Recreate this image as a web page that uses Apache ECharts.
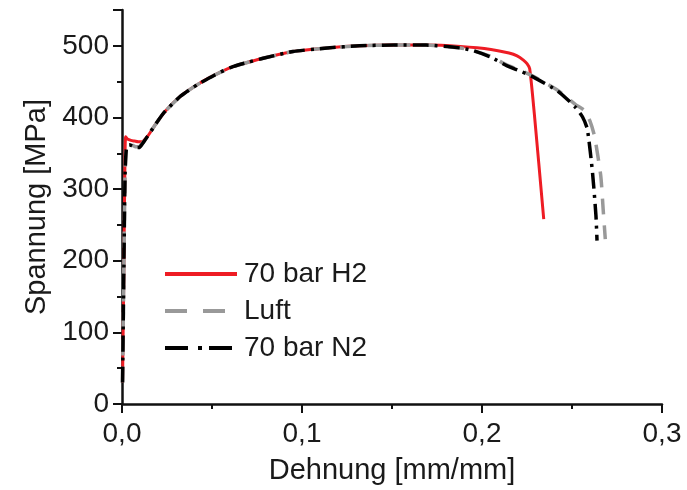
<!DOCTYPE html>
<html>
<head>
<meta charset="utf-8">
<script src="https://cdn.jsdelivr.net/npm/echarts@6/dist/echarts.min.js"></script>
<style>
html,body{margin:0;padding:0;background:#fff;}
#chart{width:687px;height:490px;}
</style>
</head>
<body>
<div id="chart"></div>
<script>
// ---- data ----
const seriesNames = ['70 bar H2', 'Luft', '70 bar N2'];

const h2X = [0.0003,0.0010,0.0016,0.0020,0.0030,0.0050,0.0070,0.0090,0.0110,0.0140,0.0180,0.0234,0.0327,0.0420,0.0513,0.0606,0.0700,0.0790,0.0950,0.1140,0.1320,0.1510,0.1690,0.1880,0.2050,0.2150,0.2195,0.2230,0.2250,0.2265,0.2290,0.2343];
const h2Y = [30,180,330,373,370,368,367,366,366,373,388,407,430,446,459,470,477,483,492,497,500,501,501,499,495,490,486,480,475,468,407,258];

const luftX = [0.0003,0.0010,0.0017,0.0025,0.0040,0.0060,0.0080,0.0095,0.0110,0.0140,0.0180,0.0234,0.0327,0.0420,0.0513,0.0606,0.0700,0.0790,0.0950,0.1140,0.1320,0.1510,0.1690,0.1880,0.1954,0.2050,0.2140,0.2220,0.2288,0.2420,0.2520,0.2568,0.2600,0.2625,0.2660,0.2673,0.2685];
const luftY = [30,180,320,360,363,361,359,359,363,373,388,407,430,446,459,470,477,483,492,497,500,501,501,497,493,485,473,465,457,438,418,410,395,374,318,272,230];

const n2X = [0.0003,0.0010,0.0017,0.0025,0.0040,0.0060,0.0080,0.0095,0.0110,0.0140,0.0180,0.0234,0.0327,0.0420,0.0513,0.0606,0.0700,0.0790,0.0950,0.1140,0.1320,0.1510,0.1690,0.1880,0.1954,0.2050,0.2140,0.2220,0.2288,0.2420,0.2520,0.2558,0.2585,0.2614,0.2633,0.2639];
const n2Y = [30,180,320,358,362,360,358,358,362,373,388,407,430,446,459,470,477,483,492,497,500,501,501,497,493,484,472,464,456,437,414,401,384,323,263,228];

const xTicks = [0, 0.1, 0.2, 0.3];
const yTicks = [0, 100, 200, 300, 400, 500];
const xTitle = 'Dehnung [mm/mm]';
const yTitle = 'Spannung [MPa]';

// ---- build ----
function pairs(xs, ys){ return xs.map((x,i)=>[x, ys[i]]); }
const FONT = 'Liberation Sans, Arial, sans-serif';

const chart = echarts.init(document.getElementById('chart'), null, {renderer:'canvas'});
chart.setOption({
  animation:false,
  backgroundColor:'#ffffff',
  grid:{left:122, right:25, top:10, bottom:85, containLabel:false},
  legend:{
    orient:'vertical', left:158, top:255,
    itemWidth:72, itemHeight:24, itemGap:9,
    itemStyle:{opacity:0},
    lineStyle:{width:4},
    textStyle:{fontFamily:FONT, fontSize:28, color:'#1a1a1a', padding:[0,0,0,2]},
    data:[
      {name:seriesNames[0]},
      {name:seriesNames[1], lineStyle:{type:[22,16], width:4}},
      {name:seriesNames[2], lineStyle:{type:[23,10,4,7], width:4}}
    ]
  },
  xAxis:{
    type:'value', min:xTicks[0], max:xTicks[xTicks.length-1], interval:0.1,
    name:xTitle, nameLocation:'middle', nameGap:52,
    nameTextStyle:{fontFamily:FONT, fontSize:29, color:'#1a1a1a'},
    axisLine:{show:true, onZero:false, lineStyle:{color:'#111', width:2.5}},
    axisTick:{show:true, length:9, lineStyle:{color:'#111', width:2}},
    minorTick:{show:true, splitNumber:2, length:5, lineStyle:{color:'#111', width:2}},
    splitLine:{show:false},
    axisLabel:{fontFamily:FONT, fontSize:28, color:'#1a1a1a', margin:16,
      formatter:v=>v.toFixed(1).replace('.',',')}
  },
  yAxis:{
    type:'value', min:0, max:550, interval:100,
    name:yTitle, nameLocation:'middle', nameGap:52, nameRotate:90,
    nameTextStyle:{fontFamily:FONT, fontSize:29, color:'#1a1a1a'},
    axisLine:{show:true, onZero:false, lineStyle:{color:'#111', width:2.5}},
    axisTick:{show:true, length:9, lineStyle:{color:'#111', width:2}},
    minorTick:{show:true, splitNumber:2, length:5, lineStyle:{color:'#111', width:2}},
    splitLine:{show:false},
    axisLabel:{fontFamily:FONT, fontSize:28, color:'#1a1a1a', margin:13,
      formatter:v=> (yTicks.indexOf(v) >= 0 ? String(v) : '')}
  },
  series:[
    {name:seriesNames[0], type:'line', showSymbol:false, symbol:'none', smooth:0.2,
     data:pairs(h2X,h2Y), itemStyle:{color:'#ee1c24'},
     lineStyle:{color:'#ee1c24', width:3, type:'solid'}},
    {name:seriesNames[1], type:'line', showSymbol:false, symbol:'none', smooth:0.2,
     data:pairs(luftX,luftY), itemStyle:{color:'#999999'},
     lineStyle:{color:'#999999', width:3.5, type:[16,11], cap:'butt'}},
    {name:seriesNames[2], type:'line', showSymbol:false, symbol:'none', smooth:0.2,
     data:pairs(n2X,n2Y), itemStyle:{color:'#000000'},
     lineStyle:{color:'#000000', width:3.5, type:[16,6,3,6], cap:'butt'}}
  ]
});
</script>
</body>
</html>
